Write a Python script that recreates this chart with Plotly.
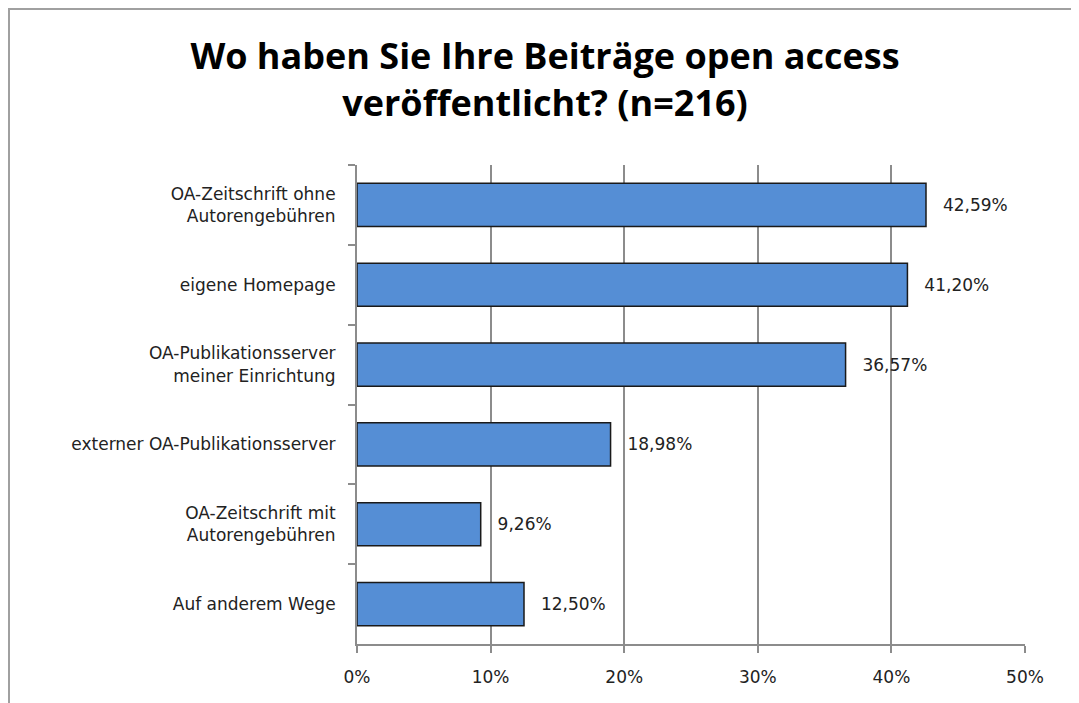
import plotly.graph_objects as go

categories = [
    "OA-Zeitschrift ohne<br>Autorengebühren",
    "eigene Homepage",
    "OA-Publikationsserver<br>meiner Einrichtung",
    "externer OA-Publikationsserver",
    "OA-Zeitschrift mit<br>Autorengebühren",
    "Auf anderem Wege",
]
values = [42.59, 41.20, 36.57, 18.98, 9.26, 12.50]
x_ticks = [0, 10, 20, 30, 40, 50]
title_text = "Wo haben Sie Ihre Beiträge open access<br>veröffentlicht? (n=216)"

labels = ["\u2002\u00a0" + f"{v:.2f}".replace(".", ",") + "%" for v in values]
x_tick_text = [f"{v}%" for v in x_ticks]

LABEL_FONT = "'DejaVu Sans', 'Open Sans', sans-serif"
TITLE_FONT = "'Open Sans', 'DejaVu Sans', sans-serif"

# the page body adds an 8px offset; figure coordinates below are relative to it
W, H = 1071, 695
L, R, T, B = 349, 1017, 157, 636

fig = go.Figure(
    go.Bar(
        x=values,
        y=categories,
        orientation="h",
        marker=dict(color="#558ED5", line=dict(color="#1a1a1a", width=1.5)),
        text=labels,
        textposition="outside",
        textfont=dict(family=LABEL_FONT, size=17, color="#222222"),
        cliponaxis=False,
    )
)

fig.update_layout(
    width=W,
    height=H,
    margin=dict(l=L, r=W - R, t=T, b=H - B),
    paper_bgcolor="white",
    plot_bgcolor="white",
    bargap=0.46,
    showlegend=False,
    title=dict(
        text=title_text,
        x=537 / W,
        xanchor="center",
        xref="container",
        y=1 - 61 / H,
        yanchor="middle",
        yref="container",
        font=dict(family=TITLE_FONT, size=36, color="black", weight="bold"),
    ),
    font=dict(family=LABEL_FONT, size=17, color="#222222"),
)

fig.update_xaxes(
    range=[0, 50],
    tickvals=x_ticks,
    ticktext=x_tick_text,
    showgrid=True,
    gridcolor="#8c8c8c",
    gridwidth=1.5,
    showline=True,
    linecolor="#8c8c8c",
    linewidth=2,
    ticks="outside",
    ticklen=7,
    tickcolor="#8c8c8c",
    tickwidth=1.5,
    tickfont=dict(family=LABEL_FONT, size=17, color="#222222"),
    ticklabelstandoff=10,
    zeroline=False,
    fixedrange=True,
)

fig.update_yaxes(
    autorange="reversed",
    showline=True,
    linecolor="#8c8c8c",
    linewidth=2,
    ticks="outside",
    tickson="boundaries",
    ticklen=7,
    tickcolor="#8c8c8c",
    tickwidth=1.5,
    tickfont=dict(family=LABEL_FONT, size=17, color="#222222"),
    ticklabelstandoff=16,
    showgrid=False,
    fixedrange=True,
)

# chart area border (only left and top edges are visible in the reference)
pw, ph = R - L, B - T
fig.add_shape(
    type="rect",
    xref="paper",
    yref="paper",
    x0=(1 - L) / pw,
    x1=(W + 20 - L) / pw,
    y0=(B - (H + 20)) / ph,
    y1=(B - 1) / ph,
    line=dict(color="#a0a0a0", width=2),
    fillcolor="rgba(0,0,0,0)",
    layer="below",
)

fig.write_html("out.html")
